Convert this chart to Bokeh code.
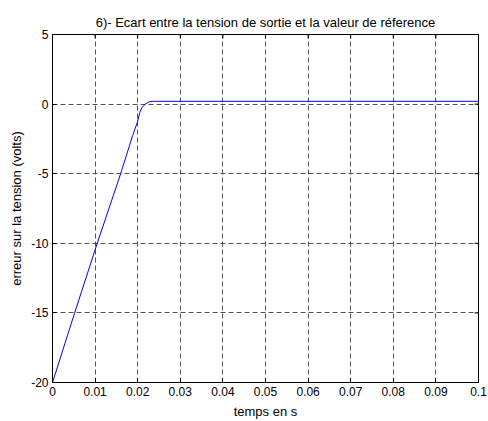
import math
from bokeh.plotting import figure
from bokeh.models import Range1d, FixedTicker
from bokeh.embed import file_html
from bokeh.resources import INLINE

# data
t = [0.0, 0.0052, 0.0105, 0.0160, 0.0188, 0.0199, 0.0205, 0.0210, 0.0218, 0.0226, 0.0234, 0.0250, 0.1]
err = [-20.0, -15.0, -10.0, -5.0, -2.27, -1.32, -0.60, -0.24, 0.0, 0.16, 0.2, 0.2, 0.2]

x_ticks = [0, 0.01, 0.02, 0.03, 0.04, 0.05, 0.06, 0.07, 0.08, 0.09, 0.1]
x_tick_labels = ["0", "0.01", "0.02", "0.03", "0.04", "0.05", "0.06", "0.07", "0.08", "0.09", "0.1"]
y_ticks = [-20, -15, -10, -5, 0, 5]
y_tick_labels = ["-20", "-15", "-10", "-5", "0", "5"]

title_text = "6)- Ecart entre la tension de sortie et la valeur de réference"
x_label = "temps en s"
y_label = "erreur sur la tension (volts)"

FONT = "Liberation Sans"
x_min, x_max = x_ticks[0], x_ticks[-1]
y_min, y_max = y_ticks[0], y_ticks[-1]

p = figure(width=488, height=421, output_backend="svg", toolbar_location=None,
           x_range=Range1d(x_min, x_max), y_range=Range1d(y_min, y_max),
           min_border_left=52, min_border_right=10, min_border_top=34, min_border_bottom=38,
           x_axis_label=x_label, y_axis_label=y_label)

p.title.text = title_text
p.title.align = "center"
p.title.text_font = FONT
p.title.text_font_size = "13px"
p.title.text_font_style = "normal"
p.title.text_color = "black"
p.title.offset = 0
p.title.standoff = 10

p.background_fill_color = "white"
p.border_fill_color = "white"
p.outline_line_color = "black"
p.outline_line_width = 1

for ax in (p.xaxis[0], p.yaxis[0]):
    ax.axis_line_color = "black"
    ax.major_tick_in = 4
    ax.major_tick_out = 0
    ax.minor_tick_line_color = None
    ax.major_tick_line_color = "black"
    ax.major_label_text_font = FONT
    ax.major_label_text_font_size = "12px"
    ax.major_label_text_color = "black"
    ax.axis_label_text_font = FONT
    ax.axis_label_text_font_size = "13px"
    ax.axis_label_text_font_style = "normal"
    ax.axis_label_text_color = "black"

p.xaxis[0].ticker = FixedTicker(ticks=x_ticks)
p.xaxis[0].major_label_overrides = {v: s for v, s in zip(x_ticks, x_tick_labels)}
p.xaxis[0].major_label_standoff = 4
p.xaxis[0].axis_label_standoff = 5

p.yaxis[0].ticker = FixedTicker(ticks=y_ticks)
p.yaxis[0].major_label_overrides = {v: s for v, s in zip(y_ticks, y_tick_labels)}
p.yaxis[0].major_label_standoff = 4
p.yaxis[0].axis_label_standoff = 4

# inward ticks on the top and right sides of the box (MATLAB style)
p.scatter(x=x_ticks, y=[y_max] * len(x_ticks), marker="dash", angle=math.pi / 2,
          size=8, line_color="black", line_width=1)
p.scatter(x=[x_max] * len(y_ticks), y=y_ticks, marker="dash",
          size=8, line_color="black", line_width=1)

p.xgrid.ticker = FixedTicker(ticks=x_ticks)
p.ygrid.ticker = FixedTicker(ticks=y_ticks)
for g in (p.xgrid[0], p.ygrid[0]):
    g.grid_line_color = "#404040"
    g.grid_line_dash = "5 3"
    g.grid_line_width = 1
    g.grid_line_alpha = 0.9

p.line(t, err, line_color="#0000ff", line_width=1)

open("out.html", "w").write(file_html(p, INLINE))
